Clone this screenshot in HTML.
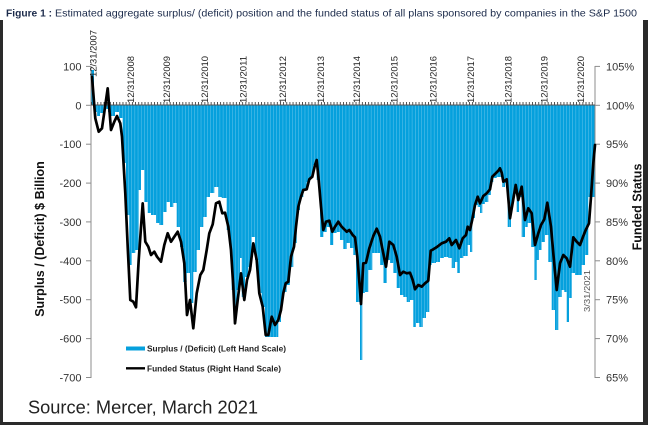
<!DOCTYPE html>
<html><head><meta charset="utf-8"><style>
html,body{margin:0;padding:0;background:#fff;}
svg{display:block;}
</style></head><body>
<svg width="648" height="425" viewBox="0 0 648 425" xmlns="http://www.w3.org/2000/svg" font-family="Liberation Sans, Arial, sans-serif">
<defs>
<pattern id="bp" patternUnits="userSpaceOnUse" x="91" y="0" width="3.15" height="425">
<rect x="0" y="0" width="3.15" height="425" fill="#7fcef0"/>
<rect x="0" y="0" width="2.75" height="425" fill="#05a0dd"/>
</pattern>
<pattern id="tp" patternUnits="userSpaceOnUse" x="91" y="0" width="3.15" height="425">
<rect x="0" y="0" width="0.9" height="425" fill="#444"/>
</pattern>
</defs>
<rect width="648" height="425" fill="#fff"/>
<!-- dark frame -->
<rect x="0" y="20" width="3" height="405" fill="#2a2a2a"/>
<rect x="643" y="20" width="5" height="405" fill="#2a2a2a"/>
<rect x="0" y="422" width="648" height="3" fill="#2a2a2a"/>

<!-- title -->
<text x="6" y="16.5" font-size="10.5" font-weight="bold" fill="#1c2b4b" textLength="46" lengthAdjust="spacingAndGlyphs">Figure 1 :</text>
<text x="55" y="16.5" font-size="10.5" fill="#1c2b4b" textLength="582" lengthAdjust="spacingAndGlyphs">Estimated aggregate surplus/ (deficit) position and the funded status of all plans sponsored by companies in the S&amp;P 1500</text>

<!-- bars -->
<rect x="91" y="70" width="3" height="35.3" fill="#05a0dd"/>
<path fill="url(#bp)" d="M94,105 L94,112 L97,112 L97,116 L100,116 L100,113 L104,113 L104,109 L108,109 L108,112 L111,112 L111,116 L115,116 L115,112 L119,112 L119,118 L122.7,118 L122.7,163 L126,163 L126,215 L129.3,215 L129.3,265 L131.7,265 L131.7,253 L135.3,253 L135.3,250 L138.7,250 L138.7,190 L141,190 L141,170 L144.3,170 L144.3,202 L147.7,202 L147.7,213 L151,213 L151,215 L156,215 L156,223 L159.3,223 L159.3,225 L163.3,225 L163.3,212 L166.7,212 L166.7,202 L170,202 L170,207 L173.3,207 L173.3,203 L176.7,203 L176.7,227 L180,227 L180,247 L183.3,247 L183.3,282 L186.7,282 L186.7,273 L190,273 L190,303 L193.3,303 L193.3,272 L196.7,272 L196.7,250 L200,250 L200,227 L203.3,227 L203.3,217 L206.7,217 L206.7,197 L210,197 L210,193 L214.3,193 L214.3,187 L218.3,187 L218.3,197 L221.7,197 L221.7,198 L226.7,198 L226.7,230 L230,230 L230,253 L231.7,253 L231.7,290 L234.3,290 L234.3,313 L236.7,313 L236.7,290 L240,290 L240,258 L241.7,258 L241.7,297 L245,297 L245,277 L248.3,277 L248.3,267 L251.7,267 L251.7,237 L255,237 L255,260 L258.3,260 L258.3,293 L261.7,293 L261.7,307 L265,307 L265,337 L278.3,337 L278.3,322 L281,322 L281,300 L283.3,300 L283.3,292 L286.7,292 L286.7,285 L290,285 L290,267 L293.3,267 L293.3,243 L296.7,243 L296.7,210 L300,210 L300,197 L303.3,197 L303.3,190 L306.7,190 L306.7,182 L310,182 L310,178 L313.3,178 L313.3,165 L316.7,165 L316.7,180 L320,180 L320,237 L323.3,237 L323.3,232 L326.7,232 L326.7,227 L330,227 L330,245 L333.3,245 L333.3,233 L336.7,233 L336.7,232 L340,232 L340,240 L343.3,240 L343.3,249 L346.7,249 L346.7,243 L350,243 L350,248 L353.3,248 L353.3,255 L356,255 L356,302 L360,302 L360,360 L362.3,360 L362.3,293 L365,293 L365,292 L368.3,292 L368.3,270 L372.3,270 L372.3,253 L380,253 L380,265 L383.3,265 L383.3,283 L386.7,283 L386.7,260 L390,260 L390,263 L393.3,263 L393.3,273 L396.7,273 L396.7,288 L400,288 L400,295 L403.3,295 L403.3,297 L406.7,297 L406.7,302 L410,302 L410,300 L413.3,300 L413.3,327 L416,327 L416,323 L419.3,323 L419.3,327 L422.7,327 L422.7,318 L426,318 L426,312 L429.3,312 L429.3,265 L431.7,265 L431.7,263 L436,263 L436,262 L440,262 L440,258 L444,258 L444,257 L448.3,257 L448.3,258 L451.7,258 L451.7,268 L455,268 L455,262 L457.3,262 L457.3,273 L460,273 L460,258 L463.3,258 L463.3,256 L467.7,256 L467.7,245 L470,245 L470,252 L472.3,252 L472.3,218 L475,218 L475,205 L477.7,205 L477.7,207 L480,207 L480,213 L482.3,213 L482.3,204 L485,204 L485,202 L488.3,202 L488.3,195 L491,195 L491,182 L493.3,182 L493.3,178 L496.7,178 L496.7,177 L502.3,177 L502.3,187 L505,187 L505,183 L507.7,183 L507.7,227 L511,227 L511,205 L513.3,205 L513.3,192 L516.7,192 L516.7,212 L519,212 L519,197 L521.7,197 L521.7,237 L525,237 L525,227 L527.7,227 L527.7,223 L531,223 L531,247 L534.3,247 L534.3,280 L536.7,280 L536.7,260 L539,260 L539,250 L541.7,250 L541.7,242 L545,242 L545,235 L548.3,235 L548.3,262 L551.7,262 L551.7,310 L555,310 L555,330 L558.3,330 L558.3,297 L561.7,297 L561.7,290 L564.3,290 L564.3,292 L566.7,292 L566.7,322 L569,322 L569,298 L571.7,298 L571.7,273 L575,273 L575,275 L581.7,275 L581.7,265 L585,265 L585,255 L588.3,255 L588.3,197 L595,197 L595,105 Z"/>

<!-- axes -->
<g stroke="#8c8c8c" stroke-width="1" fill="none">
<line x1="91" y1="66" x2="91" y2="378"/>
<line x1="595" y1="66" x2="595" y2="378"/>
<line x1="86" y1="66.4" x2="91" y2="66.4"/>
<line x1="86" y1="105.3" x2="91" y2="105.3"/>
<line x1="86" y1="144.2" x2="91" y2="144.2"/>
<line x1="86" y1="183.1" x2="91" y2="183.1"/>
<line x1="86" y1="221.9" x2="91" y2="221.9"/>
<line x1="86" y1="260.8" x2="91" y2="260.8"/>
<line x1="86" y1="299.7" x2="91" y2="299.7"/>
<line x1="86" y1="338.6" x2="91" y2="338.6"/>
<line x1="86" y1="377.5" x2="91" y2="377.5"/>
<line x1="595" y1="66.4" x2="600" y2="66.4"/>
<line x1="595" y1="105.3" x2="600" y2="105.3"/>
<line x1="595" y1="144.2" x2="600" y2="144.2"/>
<line x1="595" y1="183.1" x2="600" y2="183.1"/>
<line x1="595" y1="221.9" x2="600" y2="221.9"/>
<line x1="595" y1="260.8" x2="600" y2="260.8"/>
<line x1="595" y1="299.7" x2="600" y2="299.7"/>
<line x1="595" y1="338.6" x2="600" y2="338.6"/>
<line x1="595" y1="377.5" x2="600" y2="377.5"/>
</g>
<rect x="91" y="102" width="504" height="3" fill="url(#tp)"/>
<line x1="91" y1="105" x2="595" y2="105" stroke="#555" stroke-width="1"/>

<!-- funded status line -->
<polyline fill="none" stroke="#000" stroke-width="2.7" stroke-linejoin="round" stroke-linecap="round" points="92,76.7 95.3,118.3 98.7,131.7 102,128.3 107.7,88.3 111,130 114.3,121.7 117,116 120.3,123.3 122,136.7 125.3,193.3 127.7,246.7 130.3,300 133.3,301.7 136,307.3 138.7,260 142.7,203.3 145.3,241.7 148.3,246.7 151,255 154.3,251.7 157,256.7 161,261.7 164.3,245 167.7,233.3 171,241.7 174.3,236.7 177.7,231.7 181,241.7 184.3,263.3 187,315 190,300 193.3,328.3 196.7,293.3 200.3,275 203.3,270 206.7,250 209.3,233.3 212.7,224.3 216,203.3 219.3,201.7 222.3,213.3 225,212.7 228.3,226.7 231,250 233.3,286.7 235,323.3 237.7,300 241,273.3 244.3,300 247,280 250,270 253.3,243.3 256.7,260 259.3,293.3 262.7,306.7 265.7,335 268.3,335 271.7,316.7 275,325 278.3,320 281,310 283.3,293.3 285.7,283.3 288.3,281.7 291,256.7 294,246.7 296,226.7 298.3,206.7 301,196.7 303.3,190 306.7,189.3 309.3,179.3 312.3,176.7 315,165 316.7,160 319,183.3 321,206.7 323.3,230 326,221.7 329.3,220.7 332.3,231.7 335,226.7 338.3,221.7 341.7,226.7 343.3,228.3 346.7,231.7 349.3,230 352.7,235 355,237.3 357.3,256.7 360,290 361,304 363.3,263.3 366,262.7 369.3,248.3 373.3,236 376.7,228.7 380,236.7 383.3,253.3 386,266.7 389.3,241.7 393.3,245 396.7,256.7 400,275 403.3,271.7 406.7,273.3 410,272.7 412.7,280 415,289.3 418.3,285 421.7,286.7 425,283.3 428.3,280.7 430.7,250.7 433.3,249.3 437.3,246.7 441.7,243.3 446,241.7 449.3,238.3 451.7,245 456,240 459.3,248.3 462.7,238.3 466,235 467.7,226.7 470,230 472.3,219.3 475,205 477.7,196.7 480,203.3 483.3,196 486.7,193.3 490,189.3 492.3,176.7 495.7,173.3 498.3,170.7 500,168.3 501.7,172.7 503.3,181.7 506.7,179.3 510,218.3 512.3,205 515.7,185 518.3,200 521.7,186.7 525,220 528.3,208.3 531.7,213.3 535,245 538.3,233.3 541,225 544.3,219.3 547.3,202.7 551,226.7 553.3,253.3 556.7,290 560,263.3 563.3,255 566.7,258.3 570,266.7 573.3,237.3 576.7,241.7 580,245 583.3,236 585.7,230 589,223.3 591,196.7 593.3,163.3 595,145"/>

<!-- left axis labels -->
<g font-size="11" fill="#333" text-anchor="end">
<text x="81.5" y="70.4">100</text>
<text x="81.5" y="109.3">0</text>
<text x="81.5" y="148.2">-100</text>
<text x="81.5" y="187.1">-200</text>
<text x="81.5" y="225.9">-300</text>
<text x="81.5" y="264.8">-400</text>
<text x="81.5" y="303.7">-500</text>
<text x="81.5" y="342.6">-600</text>
<text x="81.5" y="381.5">-700</text>
</g>
<!-- right axis labels -->
<g font-size="11" fill="#333">
<text x="606" y="70.4">105%</text>
<text x="606" y="109.3">100%</text>
<text x="606" y="148.2">95%</text>
<text x="606" y="187.1">90%</text>
<text x="606" y="225.9">85%</text>
<text x="606" y="264.8">80%</text>
<text x="606" y="303.7">75%</text>
<text x="606" y="342.6">70%</text>
<text x="606" y="381.5">65%</text>
</g>

<!-- axis titles -->
<text transform="translate(44,239) rotate(-90)" text-anchor="middle" font-size="12.5" font-weight="bold" fill="#111">Surplus / (Deficit) $ Billion</text>
<text transform="translate(641.5,207) rotate(-90)" text-anchor="middle" font-size="12.5" font-weight="bold" fill="#111">Funded Status</text>

<!-- date labels -->
<g font-size="9.5" fill="#222">
<text transform="translate(96.6,77) rotate(-90)" textLength="47" lengthAdjust="spacingAndGlyphs">12/31/2007</text>
<text transform="translate(134.1,103) rotate(-90)" textLength="47" lengthAdjust="spacingAndGlyphs">12/31/2008</text>
<text transform="translate(170.1,103) rotate(-90)" textLength="47" lengthAdjust="spacingAndGlyphs">12/31/2009</text>
<text transform="translate(207.9,103) rotate(-90)" textLength="47" lengthAdjust="spacingAndGlyphs">12/31/2010</text>
<text transform="translate(246.7,103) rotate(-90)" textLength="47" lengthAdjust="spacingAndGlyphs">12/31/2011</text>
<text transform="translate(286.1,103) rotate(-90)" textLength="47" lengthAdjust="spacingAndGlyphs">12/31/2012</text>
<text transform="translate(324.1,103) rotate(-90)" textLength="47" lengthAdjust="spacingAndGlyphs">12/31/2013</text>
<text transform="translate(360.1,103) rotate(-90)" textLength="47" lengthAdjust="spacingAndGlyphs">12/31/2014</text>
<text transform="translate(397.4,103) rotate(-90)" textLength="47" lengthAdjust="spacingAndGlyphs">12/31/2015</text>
<text transform="translate(436.4,103) rotate(-90)" textLength="47" lengthAdjust="spacingAndGlyphs">12/31/2016</text>
<text transform="translate(474.1,103) rotate(-90)" textLength="47" lengthAdjust="spacingAndGlyphs">12/31/2017</text>
<text transform="translate(511.7,103) rotate(-90)" textLength="47" lengthAdjust="spacingAndGlyphs">12/31/2018</text>
<text transform="translate(547.4,103) rotate(-90)" textLength="47" lengthAdjust="spacingAndGlyphs">12/31/2019</text>
<text transform="translate(584.1,103) rotate(-90)" textLength="47" lengthAdjust="spacingAndGlyphs">12/31/2020</text>
</g>
<text transform="translate(589.8,312) rotate(-90)" font-size="8.5" fill="#555" textLength="42" lengthAdjust="spacingAndGlyphs">3/31/2021</text>

<!-- legend -->
<rect x="126" y="346.5" width="19" height="4" fill="#05a0dd"/>
<text x="147" y="351.5" font-size="8.5" font-weight="bold" fill="#222" textLength="139" lengthAdjust="spacingAndGlyphs">Surplus / (Deficit) (Left Hand Scale)</text>
<line x1="126" y1="368.3" x2="145" y2="368.3" stroke="#000" stroke-width="2.4"/>
<text x="147" y="371.3" font-size="8.5" font-weight="bold" fill="#222" textLength="134" lengthAdjust="spacingAndGlyphs">Funded Status (Right Hand Scale)</text>

<!-- source -->
<text x="28" y="413.3" font-size="18" fill="#222" textLength="230" lengthAdjust="spacingAndGlyphs">Source: Mercer, March 2021</text>
</svg>
</body></html>
